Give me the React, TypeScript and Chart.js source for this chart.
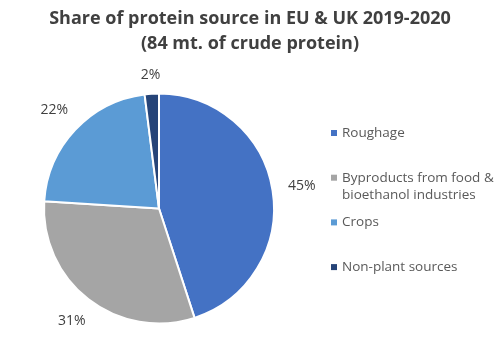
import React, { useEffect, useRef } from "react";
import { Chart, registerables } from "chart.js";

Chart.register(...registerables);

const titleLines = ["Share of protein source in EU & UK 2019-2020", "(84 mt. of crude protein)"];
const categories = ["Roughage", "Byproducts from food & bioethanol industries", "Crops", "Non-plant sources"];
const legendLines = [["Roughage"], ["Byproducts from food &", "bioethanol industries"], ["Crops"], ["Non-plant sources"]];
const shares = [45, 31, 22, 2];
const colors = ["#4472C4", "#A5A5A5", "#5B9BD5", "#264478"];

const FONT = "'Open Sans', 'Noto Sans', sans-serif";

const overlay = {
  id: "overlay",
  afterDraw(chart: any) {
    const ctx = chart.ctx as CanvasRenderingContext2D;
    ctx.save();
    // title
    ctx.fillStyle = "#404040";
    ctx.font = `bold 18px ${FONT}`;
    ctx.textAlign = "center";
    ctx.textBaseline = "middle";
    ctx.fillText(titleLines[0], 250, 19);
    ctx.fillText(titleLines[1], 250, 44);

    // data labels
    const meta = chart.getDatasetMeta(0);
    ctx.font = `14px ${FONT}`;
    ctx.fillStyle = "#404040";
    meta.data.forEach((arc: any, i: number) => {
      const p = arc.getProps(["x", "y", "startAngle", "endAngle", "outerRadius"], true);
      const mid = (p.startAngle + p.endAngle) / 2;
      const text = shares[i] + "%";
      const w = ctx.measureText(text).width;
      const hw = w / 2 + 4, hh = 7;
      const c = Math.cos(mid), s = Math.sin(mid);
      const ext = Math.abs(c) * hw + Math.abs(s) * hh;
      const d = p.outerRadius + 11 + ext;
      ctx.textAlign = "center";
      ctx.fillText(text, p.x + c * d, p.y + s * d);
    });

    // legend
    ctx.font = `13.5px ${FONT}`;
    ctx.textAlign = "left";
    legendLines.forEach((lines, i) => {
      const y = 133 + i * 44.7;
      ctx.fillStyle = colors[i];
      ctx.fillRect(331, y - 3, 6, 6);
      ctx.fillStyle = "#595959";
      lines.forEach((ln, j) => ctx.fillText(ln, 342, y + j * 17));
    });
    ctx.restore();
  },
};

export default function App() {
  const ref = useRef<HTMLCanvasElement>(null);
  useEffect(() => {
    if (!ref.current) return;
    const chart = new Chart(ref.current, {
      type: "pie",
      data: {
        labels: categories,
        datasets: [
          {
            data: shares,
            backgroundColor: colors,
            borderColor: "#ffffff",
            borderWidth: 2,
          },
        ],
      },
      options: {
        responsive: false,
        animation: false,
        layout: { padding: { left: 43, right: 225, top: 92.5, bottom: 34.5 } },
        plugins: {
          legend: { display: false },
          title: { display: false },
          tooltip: { enabled: false },
        },
      },
      plugins: [overlay],
    });
    return () => chart.destroy();
  }, []);
  return (
    <div style={{ position: "fixed", left: 0, top: 0, width: 500, height: 359, background: "#fff" }}>
      <canvas ref={ref} width={500} height={359} />
    </div>
  );
}
